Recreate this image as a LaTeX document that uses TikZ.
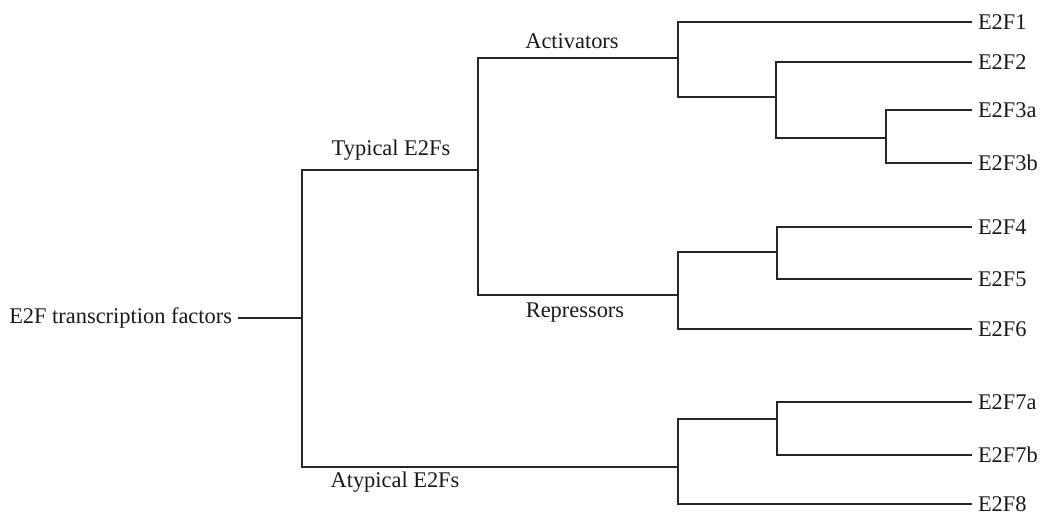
\documentclass[tikz,border=0pt]{standalone}
\usepackage{fontspec}
\setmainfont{Liberation Serif}
\usetikzlibrary{positioning}

\begin{document}
\begin{tikzpicture}[
                x=0.5pt, y=-0.5pt, % one unit is one pixel of the reference
                tree/.style={line width=0.65pt, draw=black!85}, % tree lines
                leaf/.style={anchor=west, inner xsep=3pt, inner ysep=0pt, outer sep=0pt, text=black!90, font=\fontsize{11.2}{13}\selectfont}, % end labels
                branch/.style={anchor=base, inner sep=0pt, text=black!90, font=\fontsize{11.2}{13}\selectfont} % labels on the branches
                ]
                \useasboundingbox (0,0) rectangle (1040,514);

                % root
                \node[leaf, anchor=east] (root) at (238,318) {E2F transcription factors};

                % leaves
                \node[leaf] (e2f1) at (972,22) {E2F1};
                \node[leaf] (e2f2) at (972,62) {E2F2};
                \node[leaf] (e2f3a) at (972,110) {E2F3a};
                \node[leaf] (e2f3b) at (972,163) {E2F3b};
                \node[leaf] (e2f4) at (972,227) {E2F4};
                \node[leaf] (e2f5) at (972,279) {E2F5};
                \node[leaf] (e2f6) at (972,329) {E2F6};
                \node[leaf] (e2f7a) at (972,402) {E2F7a};
                \node[leaf] (e2f7b) at (972,455) {E2F7b};
                \node[leaf] (e2f8) at (972,504) {E2F8};

                % junctions
                \coordinate (r) at (302,318);
                \coordinate (typ) at (478,170);
                \coordinate (act) at (678,58);
                \coordinate (rep) at (678,295);
                \coordinate (atyp) at (678,467);
                \coordinate (a2) at (776,97);
                \coordinate (a3) at (886,138);
                \coordinate (r4) at (777,252);
                \coordinate (at7) at (777,419);

                % branches
                \draw[tree] (root) -- (r);
                \draw[tree] (typ) -| (r) |- (atyp);
                \draw[tree] (act) -| (typ) |- (rep);
                \draw[tree] (e2f1) -| (act) |- (a2);
                \draw[tree] (e2f2) -| (a2) |- (a3);
                \draw[tree] (e2f3a) -| (a3) |- (e2f3b);
                \draw[tree] (r4) -| (rep) |- (e2f6);
                \draw[tree] (e2f4) -| (r4) |- (e2f5);
                \draw[tree] (at7) -| (atyp) |- (e2f8);
                \draw[tree] (e2f7a) -| (at7) |- (e2f7b);

                % branch labels
                \node[branch] (typlab) at (391,155) {Typical E2Fs};
                \node[branch] (atyplab) at (395,487) {Atypical E2Fs};
                \node[branch] (actlab) at (572,48) {Activators};
                \node[branch] (replab) at (575,317) {Repressors};
            \end{tikzpicture}
\end{document}
